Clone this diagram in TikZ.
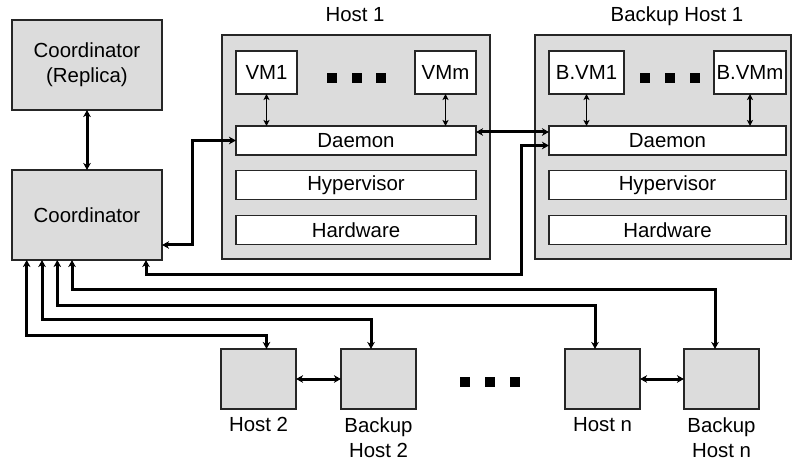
\documentclass[tikz,border=0pt]{standalone}
\usepackage{fontspec}
\setmainfont{Liberation Sans}
\usetikzlibrary{arrows.meta,positioning}
\definecolor{boxgray}{RGB}{220,220,220}
\tikzset{
  gbox/.style={draw=black!85, fill=boxgray, line width=1.4pt, inner sep=0pt, outer sep=0pt},
  wbox/.style={draw=black!85, fill=white, line width=1.4pt, inner sep=0pt, outer sep=0pt},
  vmbox/.style={wbox, minimum height=43pt},
  layer/.style={wbox, minimum height=29pt},
  hostbox/.style={gbox, minimum width=75pt, minimum height=60pt},
  link/.style={line width=3pt, {Stealth[length=7pt,width=7.5pt,inset=2pt]}-{Stealth[length=7pt,width=7.5pt,inset=2pt]}},
  vlink/.style={line width=1.6pt, {Stealth[length=6pt,width=6pt,inset=1.5pt]}-{Stealth[length=6pt,width=6pt,inset=1.5pt]}},
}

\begin{document}
\begin{tikzpicture}[x=1pt, y=-1pt, font=\fontsize{20.4}{25}\selectfont]
    \useasboundingbox (0,0) rectangle (792,462);

    % coordinators
    \node (rep) [gbox, minimum width=150pt, minimum height=90pt, align=center] at (87,65) {Coordinator\\(Replica)};
    \node (coord) [gbox, minimum width=150pt, minimum height=90pt] at (87,215) {Coordinator};

    % host 1 and its backup
    \node (host1) [gbox, minimum width=268pt, minimum height=224pt] at (356,147) {};
    \node (bhost1) [gbox, minimum width=256pt, minimum height=224pt] at (663,147) {};
    \node (h1lbl) [anchor=base] at (355,21.7) {Host 1};
    \node (bh1lbl) [anchor=base] at (677,21.7) {Backup Host 1};

    \node (vm1) [vmbox, minimum width=61pt] at (266.5,72.5) {VM1};
    \node (vmm) [vmbox, minimum width=61pt] at (445.5,72.5) {VMm};
    \node (dmn1) [layer, minimum width=240pt] at (356,140.5) {Daemon};
    \node (hyp1) [layer, minimum width=240pt] at (356,185) {Hypervisor};
    \node (hw1) [layer, minimum width=240pt] at (356,230) {Hardware};

    \node (bvm1) [vmbox, minimum width=75pt] at (586.5,72.5) {B.VM1};
    \node (bvmm) [vmbox, minimum width=72pt] at (750,72.5) {B.VMm};
    \node (dmn2) [layer, minimum width=237pt] at (667.5,140.5) {Daemon};
    \node (hyp2) [layer, minimum width=237pt] at (667.5,185) {Hypervisor};
    \node (hw2) [layer, minimum width=237pt] at (667.5,230) {Hardware};

    \foreach \x in {332,357,381} \fill (\x-5,73) rectangle ++(10,10);
    \foreach \x in {644.5,669.5,694.5} \fill (\x-5,73) rectangle ++(10,10);

    % other hosts
    \node (host2) [hostbox] at (258.5,379) {};
    \node (bhost2) [hostbox] at (378.5,379) {};
    \node (hostn) [hostbox] at (602.5,379) {};
    \node (bhostn) [hostbox] at (721.5,379) {};
    \node (h2lbl) [below=5pt of host2] {Host 2};
    \node (bh2lbl) [below=5pt of bhost2, align=center] {Backup\\Host 2};
    \node (hnlbl) [below=5pt of hostn] {Host n};
    \node (bhnlbl) [below=5pt of bhostn, align=center] {Backup\\Host n};

    \foreach \x in {465,490,515} \fill (\x-5,377) rectangle ++(10,10);

    % links
    \draw[link] (rep) -- (coord);
    \draw[vlink] (vm1.south) -- (vm1.south |- dmn1.north);
    \draw[vlink] (vmm.south) -- (vmm.south |- dmn1.north);
    \draw[vlink] (bvm1.south) -- (bvm1.south |- dmn2.north);
    \draw[vlink] (bvmm.south) -- (bvmm.south |- dmn2.north);
    \draw[link] ([yshift=-6pt]dmn1.north east) -- ([yshift=-6pt]dmn2.north west);
    \draw[link] ([yshift=15pt]coord.south east) -- ++(30,0) |- (dmn1.west);
    \draw[link] ([xshift=-16pt]coord.south east) -- ++(0,15) -| ([xshift=-28pt,yshift=-5pt]dmn2.west) -- ([yshift=-5pt]dmn2.west);

    \draw[link] ([xshift=14.7pt]coord.south west) -- ++(0,75) -| ([xshift=8pt]host2.north);
    \draw[link] ([xshift=30pt]coord.south west) -- ++(0,59.3) -| ([xshift=-7.5pt]bhost2.north);
    \draw[link] ([xshift=45.3pt]coord.south west) -- ++(0,45) -| ([xshift=-7.5pt]hostn.north);
    \draw[link] ([xshift=60pt]coord.south west) -- ++(0,29) -| ([xshift=-6.5pt]bhostn.north);
    \draw[link] (host2) -- (bhost2);
    \draw[link] (hostn) -- (bhostn);
\end{tikzpicture}
\end{document}
